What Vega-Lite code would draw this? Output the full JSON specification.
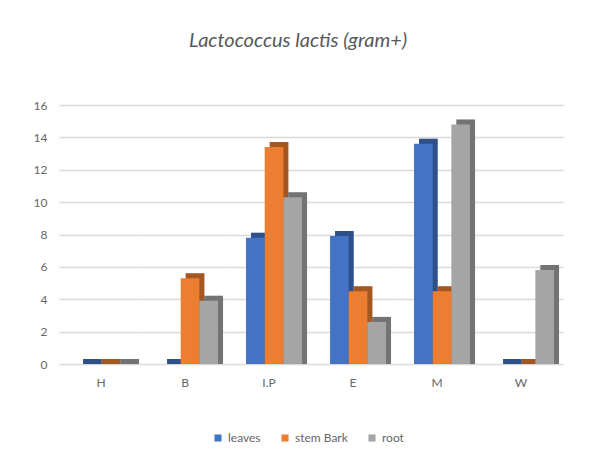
{
  "$schema": "https://vega.github.io/schema/vega-lite/v6.json",
  "padding": {"left": 33, "top": 31, "right": 5, "bottom": 5},
  "background": "white",
  "title": {"text": "Lactococcus lactis (gram+)", "fontSize": 20, "fontStyle": "italic", "fontWeight": "normal", "font": "Lato", "color": "#595959", "anchor": "middle", "offset": 48},
  "data": {"values": [
    {"site": "H", "part": "leaves", "value": 0},
    {"site": "H", "part": "stem Bark", "value": 0},
    {"site": "H", "part": "root", "value": 0},
    {"site": "B", "part": "leaves", "value": 0},
    {"site": "B", "part": "stem Bark", "value": 5.3},
    {"site": "B", "part": "root", "value": 3.9},
    {"site": "I.P", "part": "leaves", "value": 7.8},
    {"site": "I.P", "part": "stem Bark", "value": 13.4},
    {"site": "I.P", "part": "root", "value": 10.3},
    {"site": "E", "part": "leaves", "value": 7.9},
    {"site": "E", "part": "stem Bark", "value": 4.5},
    {"site": "E", "part": "root", "value": 2.6},
    {"site": "M", "part": "leaves", "value": 13.6},
    {"site": "M", "part": "stem Bark", "value": 4.5},
    {"site": "M", "part": "root", "value": 14.8},
    {"site": "W", "part": "leaves", "value": 0},
    {"site": "W", "part": "stem Bark", "value": 0},
    {"site": "W", "part": "root", "value": 5.8}
  ]},
  "facet": {
    "column": {
      "field": "site", "type": "nominal",
      "sort": ["H", "B", "I.P", "E", "M", "W"],
      "title": null,
      "header": {"labelOrient": "bottom", "labelPadding": 14, "labelFontSize": 12, "labelColor": "#666666", "labelFont": "Lato"}
    }
  },
  "spacing": 0,
  "spec": {
    "width": 84,
    "height": 259,
    "encoding": {
      "x": {"field": "part", "type": "nominal", "sort": ["leaves", "stem Bark", "root"], "axis": null, "scale": {"paddingInner": 0, "paddingOuter": 0.75, "align": 0.68}},
      "y": {"field": "value", "type": "quantitative", "stack": null, "scale": {"domain": [0, 16]},
        "axis": {"values": [0, 2, 4, 6, 8, 10, 12, 14, 16], "title": null, "domain": false, "ticks": false, "labelPadding": 12, "labelFontSize": 12, "labelColor": "#666666", "labelFont": "Lato", "grid": true, "gridColor": "#d9d9d9", "gridWidth": 1.5}},
      "color": {"field": "part", "type": "nominal", "sort": ["leaves", "stem Bark", "root"], "scale": {"domain": ["leaves", "stem Bark", "root"], "range": ["#4472C4", "#ED7D31", "#A5A5A5"]},
        "legend": {"orient": "none", "legendX": 153, "legendY": 327, "direction": "horizontal", "title": null, "symbolType": "square", "symbolSize": 50, "labelOffset": 4, "labelFontSize": 12, "labelColor": "#666666", "labelFont": "Lato", "columnPadding": 18}}
    },
    "layer": [
      {
        "mark": {"type": "bar", "xOffset": 5, "x2Offset": 5, "yOffset": -5, "y2Offset": 0}
      },
      {
        "mark": {"type": "bar", "xOffset": 5, "x2Offset": 5, "yOffset": -5, "y2Offset": 0, "color": "black", "opacity": 0.3},
        "encoding": {"color": {"value": "black"}}
      },
      {
        "mark": {"type": "bar"}
      }
    ]
  },
  "config": {"view": {"stroke": null}}
}
